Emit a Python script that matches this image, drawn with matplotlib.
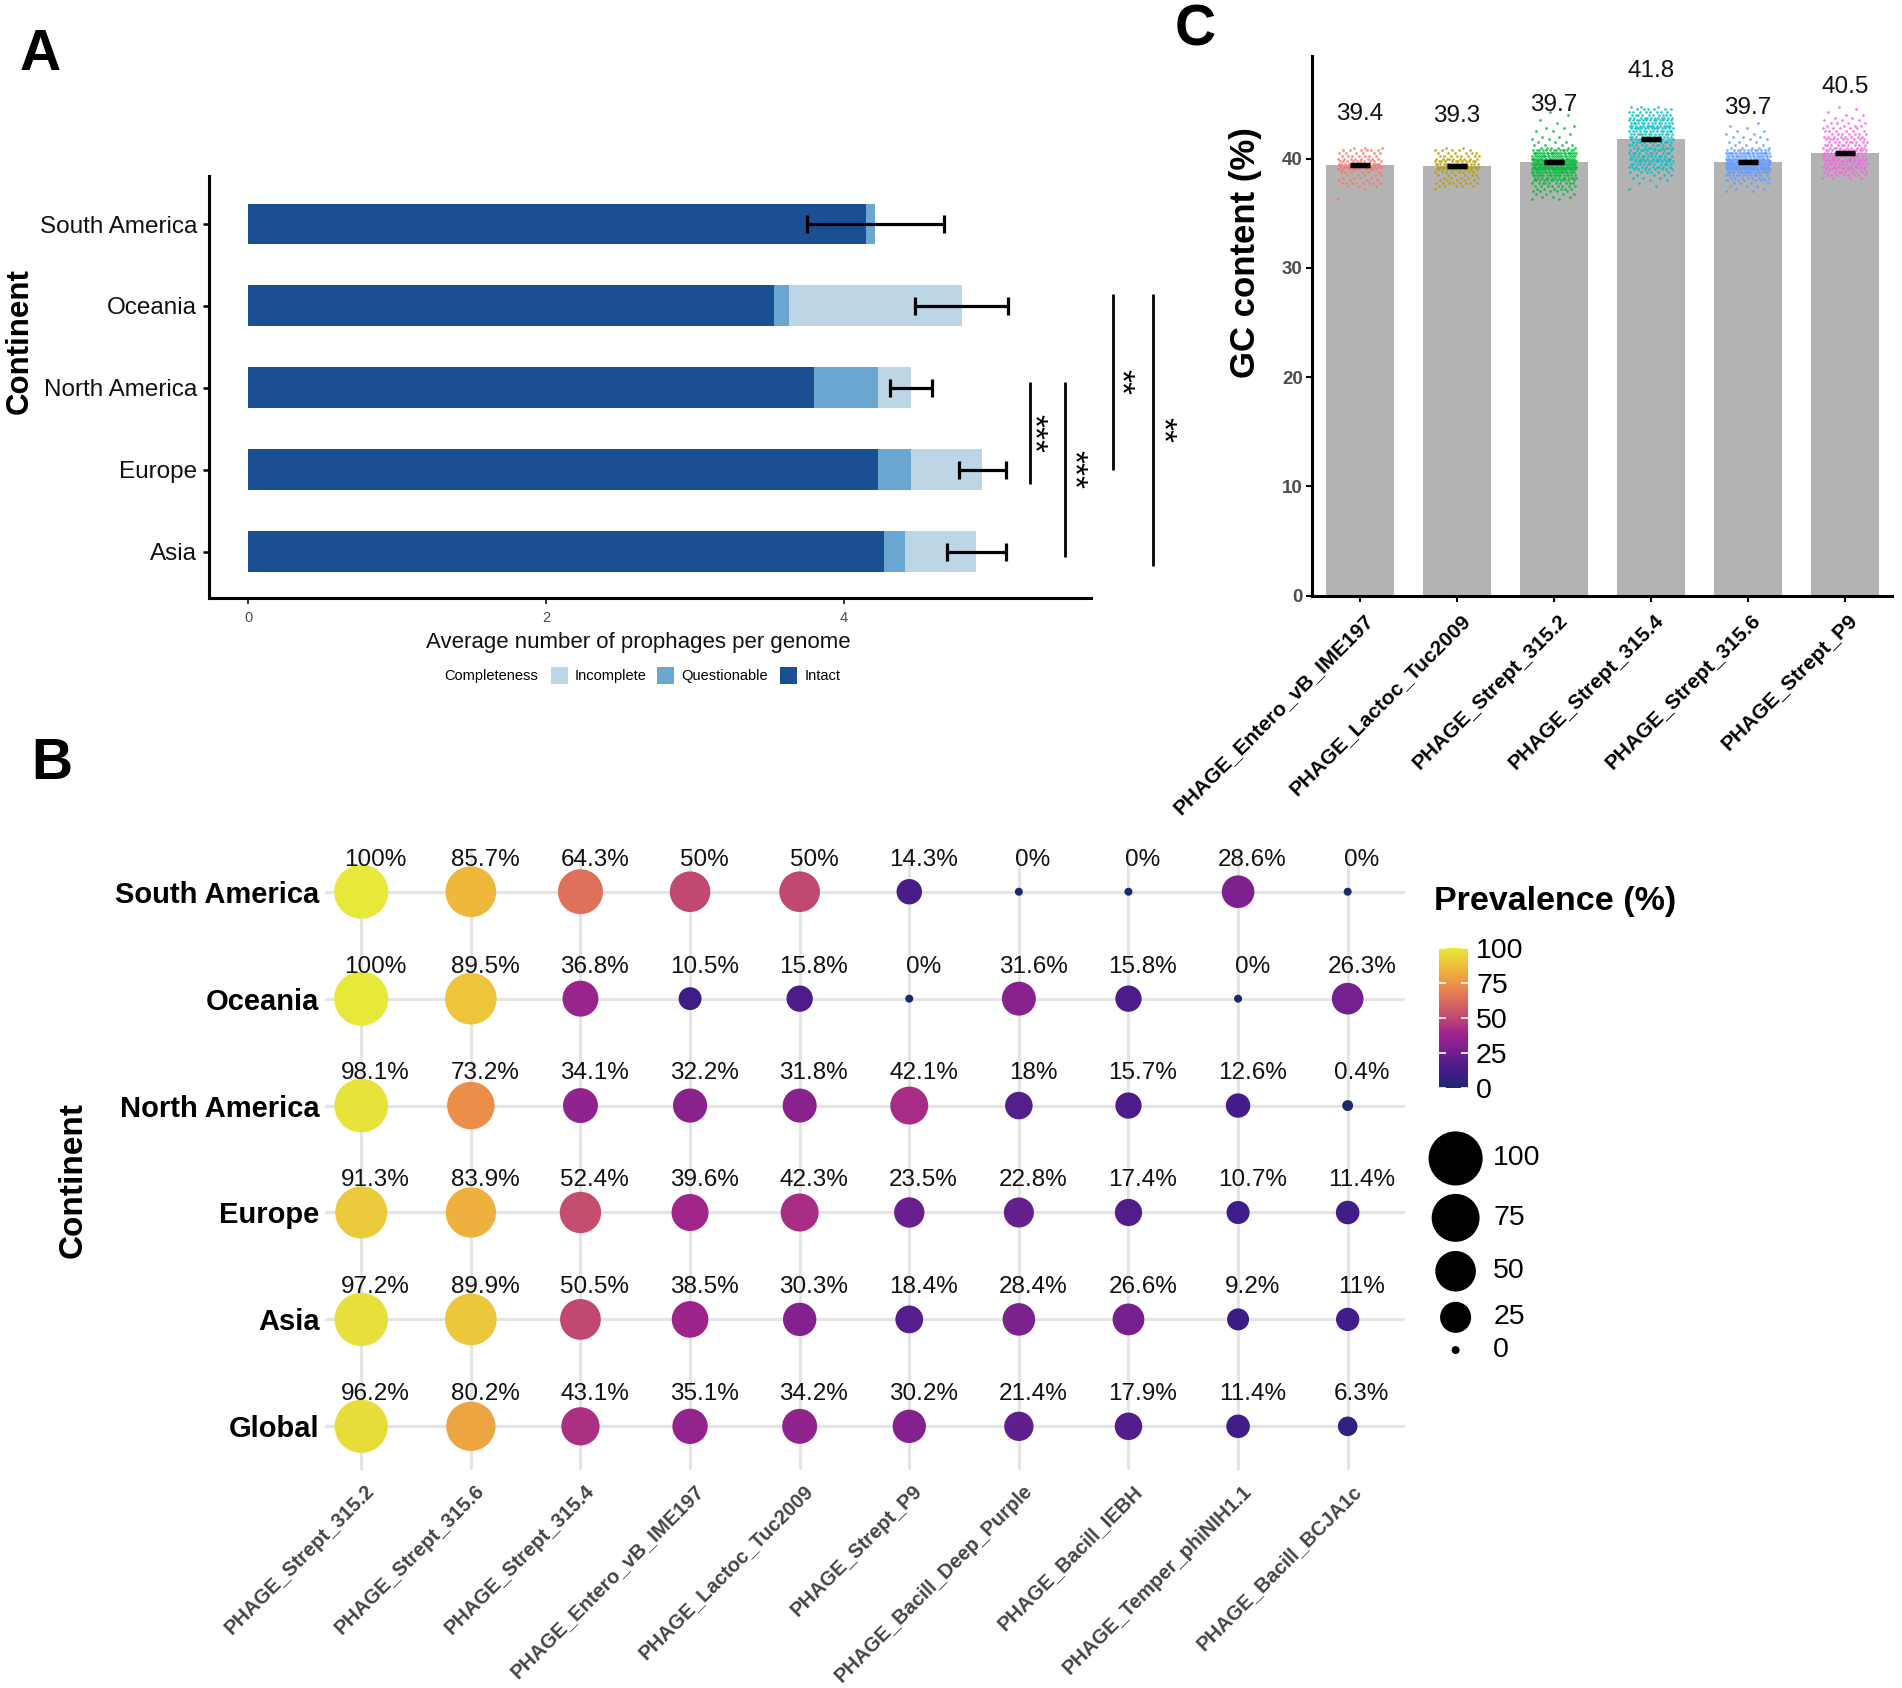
import numpy as np
import matplotlib
matplotlib.use('Agg')
import matplotlib.pyplot as plt
from matplotlib.colors import LinearSegmentedColormap, Normalize
from matplotlib.transforms import ScaledTranslation
import matplotlib.cm as cm

plt.rcParams['font.family'] = ['Liberation Sans', 'DejaVu Sans']

# ------------------------------------------------------------------ data
# Panel A : average number of prophages per genome
continents_a = ['Asia', 'Europe', 'North America', 'Oceania', 'South America']
intact = [4.27, 4.23, 3.80, 3.53, 4.15]
questionable = [0.14, 0.22, 0.43, 0.10, 0.06]
incomplete = [0.48, 0.48, 0.22, 1.16, 0.00]
err_a = [0.20, 0.16, 0.14, 0.31, 0.46]
xticks_a = [0, 2, 4]
sig_pairs = [('North America', 'Europe', '***'),
             ('North America', 'Asia', '***'),
             ('Oceania', 'Europe', '**'),
             ('Oceania', 'Asia', '**')]

# Panel B : prevalence (%) per continent
phages_b = ['PHAGE_Strept_315.2', 'PHAGE_Strept_315.6', 'PHAGE_Strept_315.4',
            'PHAGE_Entero_vB_IME197', 'PHAGE_Lactoc_Tuc2009', 'PHAGE_Strept_P9',
            'PHAGE_Bacill_Deep_Purple', 'PHAGE_Bacill_IEBH',
            'PHAGE_Temper_phiNIH1.1', 'PHAGE_Bacill_BCJA1c']
rows_b = ['Global', 'Asia', 'Europe', 'North America', 'Oceania', 'South America']
prev_global = [96.2, 80.2, 43.1, 35.1, 34.2, 30.2, 21.4, 17.9, 11.4, 6.3]
prev_asia = [97.2, 89.9, 50.5, 38.5, 30.3, 18.4, 28.4, 26.6, 9.2, 11]
prev_europe = [91.3, 83.9, 52.4, 39.6, 42.3, 23.5, 22.8, 17.4, 10.7, 11.4]
prev_north_america = [98.1, 73.2, 34.1, 32.2, 31.8, 42.1, 18, 15.7, 12.6, 0.4]
prev_oceania = [100, 89.5, 36.8, 10.5, 15.8, 0, 31.6, 15.8, 0, 26.3]
prev_south_america = [100, 85.7, 64.3, 50, 50, 14.3, 0, 0, 28.6, 0]
size_legend_vals = [100, 75, 50, 25, 0]
cbar_ticks = [0, 25, 50, 75, 100]

# Panel C : GC content (%)
phages_c = ['PHAGE_Entero_vB_IME197', 'PHAGE_Lactoc_Tuc2009', 'PHAGE_Strept_315.2',
            'PHAGE_Strept_315.4', 'PHAGE_Strept_315.6', 'PHAGE_Strept_P9']
gc_mean = [39.4, 39.3, 39.7, 41.8, 39.7, 40.5]
gc_se = [0.08, 0.07, 0.07, 0.10, 0.07, 0.10]
gc_yticks = [0, 10, 20, 30, 40]
# individual genomes, read as counts per 0.25 % GC bin (first bin centre given)
gc_bin_width = 0.25
gc_bin_start = [36.25, 37.25, 36.25, 37.25, 37.0, 38.25]
gc_counts_entero = [1, 0, 0, 0, 1, 3, 8, 4, 4, 5, 6, 10, 16, 14, 10, 8, 7, 6, 6, 3]
gc_counts_lactoc = [1, 5, 8, 5, 5, 6, 8, 12, 18, 16, 12, 9, 8, 6, 5, 2]
gc_counts_315_2 = [2, 3, 4, 5, 6, 8, 10, 12, 14, 18, 22, 26, 30, 32, 30, 26, 22, 24, 14, 6,
                   4, 3, 2, 2, 1, 2, 2, 1, 1, 1, 0, 1, 1]
gc_counts_315_4 = [1, 1, 1, 2, 3, 4, 6, 8, 10, 12, 12, 12, 12, 11, 10, 10, 10, 10, 12, 12,
                   14, 14, 15, 15, 14, 13, 12, 10, 8, 6, 3]
gc_counts_315_6 = [2, 2, 3, 4, 6, 8, 12, 18, 24, 28, 30, 30, 26, 22, 24, 12, 5, 3, 3, 2,
                   3, 2, 2, 1, 1, 1]
gc_counts_p9 = [4, 8, 10, 10, 12, 12, 12, 12, 12, 13, 12, 10, 10, 9, 9, 8, 7, 6, 5, 4,
                4, 3, 2, 2, 1, 1, 1]
gc_counts = [gc_counts_entero, gc_counts_lactoc, gc_counts_315_2,
             gc_counts_315_4, gc_counts_315_6, gc_counts_p9]

# ------------------------------------------------------------------ layout helpers
FW, FH = 1902, 1688
S = 1902 / 1568.0           # reference picture scale (layout measured at 1568 px wide)
W, H = FW / S, FH / S
fig = plt.figure(figsize=(FW / 100, FH / 100), dpi=100)


def rect(l, t, r, b):
    return [l / W, 1 - b / H, (r - l) / W, (b - t) / H]


def px_to_pt(d):
    return d * S * 0.72


# ------------------------------------------------------------------ panel A
axA = fig.add_axes(rect(172.4, 144.8, 899.5, 493))
ya = np.arange(len(continents_a))
c_int, c_q, c_inc = '#1b4f93', '#6aa6cf', '#bcd6e6'
base1 = np.array(intact)
base2 = base1 + np.array(questionable)
total = base2 + np.array(incomplete)
axA.barh(ya, intact, height=0.5, color=c_int, zorder=2)
axA.barh(ya, questionable, left=base1, height=0.5, color=c_q, zorder=2)
axA.barh(ya, incomplete, left=base2, height=0.5, color=c_inc, zorder=2)
axA.errorbar(total, ya, xerr=err_a, fmt='none', ecolor='black', elinewidth=2.3,
             capsize=6.5, capthick=2.3, zorder=3)
axA.set_xlim(-0.261, 5.66)
axA.set_ylim(-0.563, 4.59)
for sp in ['top', 'right']:
    axA.spines[sp].set_visible(False)
for sp in ['left', 'bottom']:
    axA.spines[sp].set_linewidth(2.2)
axA.set_yticks(ya)
axA.set_yticklabels(continents_a, fontsize=17.5, color='#111111')
axA.tick_params(axis='y', length=4.5, width=1.8, pad=4)
axA.set_xticks(xticks_a)
axA.set_xticklabels([str(v) for v in xticks_a], fontsize=10.5, color='#4d4d4d')
axA.tick_params(axis='x', length=4, width=1.4, pad=5, color='#333333')

# significance brackets (layout: line x position, top/bottom extension, text offset)
sig_layout = [(5.25, 0.067, -0.17, 0.02), (5.487, 0.067, -0.065, 0.05),
              (5.805, 0.15, 0.0, 0.045), (6.077, 0.15, -0.17, 0.055)]
for (a, b, lab), (lx, ext_top, ext_bot, tdx) in zip(sig_pairs, sig_layout):
    ia, ib = continents_a.index(a), continents_a.index(b)
    y_top, y_bot = ia + ext_top, ib + ext_bot
    axA.plot([lx, lx], [y_bot, y_top], color='black', lw=2.0, clip_on=False,
             solid_capstyle='butt')
    axA.text(lx + tdx, (y_top + y_bot) / 2, lab, rotation=270, ha='center',
             va='center', fontsize=24, clip_on=False)

# ------------------------------------------------------------------ panel B
cmap = LinearSegmentedColormap.from_list('prev', [
    (0.00, '#1b2a6c'), (0.10, '#3d1d88'), (0.15, '#4b1c8a'), (0.20, '#5a1f8d'),
    (0.30, '#84218f'), (0.40, '#a2258a'), (0.50, '#c04772'), (0.64, '#de705c'),
    (0.73, '#ea8d4a'), (0.86, '#efb83b'), (1.00, '#e6e83a')])
norm = Normalize(0, 100)


def dot_size(v):
    d = 6.6 + 38.0 * np.sqrt(np.asarray(v, float) / 100.0)
    return px_to_pt(d) ** 2


axB = fig.add_axes(rect(268, 699, 1158, 1212))
prev = np.array([prev_global, prev_asia, prev_europe, prev_north_america,
                 prev_oceania, prev_south_america], float)
nr, nc = prev.shape
xx, yy = np.meshgrid(np.arange(nc), np.arange(nr))
for i in range(nc):
    axB.axvline(i, color='#e4e4e4', lw=2.2, zorder=0)
for j in range(nr):
    axB.axhline(j, color='#e4e4e4', lw=2.2, zorder=0)
axB.scatter(xx.ravel(), yy.ravel(), s=dot_size(prev.ravel()), c=prev.ravel(),
            cmap=cmap, norm=norm, linewidths=0, zorder=3)
for j in range(nr):
    for i in range(nc):
        axB.text(i + 0.13, j + 0.30, f'{prev[j, i]:g}%', ha='center', va='center',
                 fontsize=17.5, color='#111111', zorder=4)
axB.set_xlim(-0.33, 9.52)
axB.set_ylim(-0.41, 5.41)
for sp in axB.spines.values():
    sp.set_visible(False)
axB.set_yticks(np.arange(nr))
axB.set_yticklabels(rows_b, fontsize=21, fontweight='bold', color='black')
axB.set_xticks(np.arange(nc))
axB.set_xticklabels(phages_b, fontsize=14.5, fontweight='bold', color='#444444',
                    rotation=45, ha='right', va='top', rotation_mode='anchor')
axB.tick_params(axis='both', length=0)
axB.tick_params(axis='y', pad=4)
axB.tick_params(axis='x', pad=8)
offB = ScaledTranslation(3 * S / 100, 0, fig.dpi_scale_trans)
for lab in axB.get_xticklabels():
    lab.set_transform(lab.get_transform() + offB)

# colour bar
cax = fig.add_axes(rect(1186, 781.5, 1210, 897))
cb = fig.colorbar(cm.ScalarMappable(norm=norm, cmap=cmap), cax=cax, ticks=cbar_ticks)
cb.outline.set_visible(False)
cax.tick_params(axis='y', length=5, width=1.2, color='white', direction='in',
                left=True, right=True, labelleft=False, labelright=True,
                labelsize=20.5, pad=6)

# ------------------------------------------------------------------ panel C
axC = fig.add_axes(rect(1082, 46, 1560, 491))
xc = np.arange(len(phages_c))
hue = ['#F8766D', '#B79F00', '#00BA38', '#00BFC4', '#619CFF', '#F564E3']
axC.bar(xc, gc_mean, width=0.7, color='#b3b3b3', zorder=1)
label_y = []
for i, (start, counts) in enumerate(zip(gc_bin_start, gc_counts)):
    centres = start + gc_bin_width * np.arange(len(counts))
    vals = np.repeat(centres, counts)
    n = len(vals)
    offs = ((np.arange(n) * 0.6180339887) % 1.0 - 0.5) * 0.46
    axC.scatter(i + offs, vals, s=4, color=hue[i], alpha=0.8, linewidths=0, zorder=2)
    label_y.append(vals.mean() + 2 * vals.std() + 2.9)
axC.errorbar(xc, gc_mean, yerr=gc_se, fmt='none', ecolor='black', elinewidth=2.5,
             capsize=7, capthick=2.5, zorder=3)
for i, (m, ly) in enumerate(zip(gc_mean, label_y)):
    axC.text(i, ly, f'{m:.1f}', ha='center', va='center', fontsize=17.5, color='#111111')
axC.set_xlim(-0.49, 5.49)
axC.set_ylim(0, 49.4)
for sp in ['top', 'right']:
    axC.spines[sp].set_visible(False)
for sp in ['left', 'bottom']:
    axC.spines[sp].set_linewidth(2.2)
axC.set_yticks(gc_yticks)
axC.set_yticklabels([str(v) for v in gc_yticks], fontsize=13.5, fontweight='bold',
                    color='#4d4d4d')
axC.tick_params(axis='y', length=4, width=1.5, pad=3)
axC.set_xticks(xc)
axC.set_xticklabels(phages_c, fontsize=15, fontweight='bold', color='black',
                    rotation=45, ha='right', va='top', rotation_mode='anchor')
axC.tick_params(axis='x', length=4, width=1.5, pad=7)
offC = ScaledTranslation(3 * S / 100, 0, fig.dpi_scale_trans)
for lab in axC.get_xticklabels():
    lab.set_transform(lab.get_transform() + offC)

# ------------------------------------------------------------------ overlay (titles, legends)
ov = fig.add_axes([0, 0, 1, 1], facecolor='none')
ov.set_xlim(0, W)
ov.set_ylim(H, 0)
ov.axis('off')

for letter, (x, y) in zip(['A', 'B', 'C'], [(33, 45), (43, 630), (985, 25)]):
    ov.text(x, y, letter, fontsize=41, fontweight='bold', ha='center', va='center')

# panel A axis titles and legend
ov.text(16.5, 281, 'Continent', rotation=90, fontsize=22.5, fontweight='bold',
        ha='center', va='center')
ov.text(526, 530, 'Average number of prophages per genome', fontsize=16,
        ha='center', va='center', color='#111111')
ov.text(366, 557, 'Completeness', fontsize=10.5, ha='left', va='center')
for (px, lab, col) in [(454, 'Incomplete', c_inc), (542, 'Questionable', c_q),
                       (643, 'Intact', c_int)]:
    ov.add_patch(plt.Rectangle((px, 550), 14, 14, color=col, lw=0))
    ov.text(px + 20, 557, lab, fontsize=10.5, ha='left', va='center')

# panel B axis title and legends
ov.text(60, 973, 'Continent', rotation=90, fontsize=24, fontweight='bold',
        ha='center', va='center')
ov.text(1182, 743, 'Prevalence (%)', fontsize=24.5, fontweight='bold',
        ha='left', va='center')
leg_y = [955, 1004, 1048, 1086, 1113]
ov.scatter([1200] * len(size_legend_vals), leg_y, s=dot_size(size_legend_vals),
           color='black', linewidths=0)
for v, y in zip(size_legend_vals, leg_y):
    ov.text(1231, y, str(v), fontsize=20.5, ha='left', va='center')

# panel C axis title
ov.text(1027, 208, 'GC content (%)', rotation=90, fontsize=25, fontweight='bold',
        ha='center', va='center')

fig.savefig('out.png', dpi=100)
